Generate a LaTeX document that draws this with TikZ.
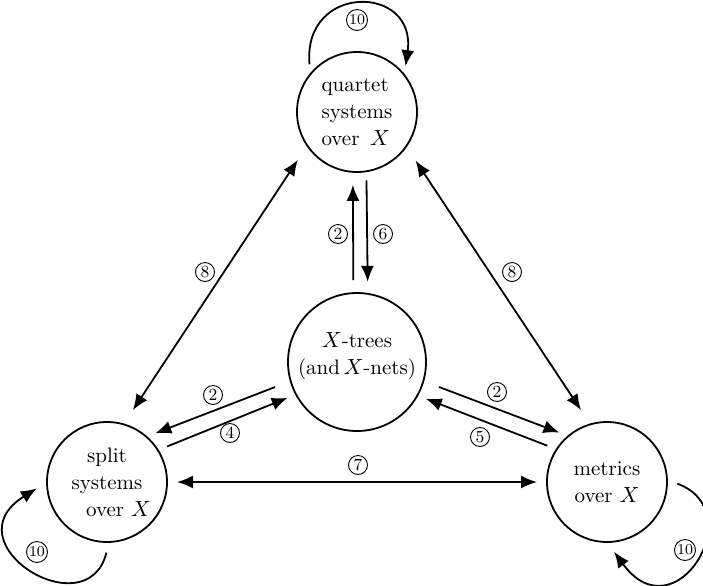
\documentclass[tikz,border=0pt]{standalone}
\usepackage{amsmath}
\usepackage{tikz}
\usetikzlibrary{arrows.meta}
\tikzstyle{set_node}=[circle, draw=black, line width=0.9pt, inner sep=0pt, outer sep=0pt]
\tikzstyle{set_text}=[inner sep=0pt, font=\fontsize{10.5}{13.5}\selectfont]
\tikzstyle{num_label}=[circle, draw=black, line width=0.45pt, inner sep=0pt, minimum size=9.5pt, font=\fontsize{8.5}{9}\selectfont]
\tikzstyle{ten_label}=[num_label, minimum size=10.5pt, font=\fontsize{7.5}{8}\selectfont]
\tikzstyle{map_arrow}=[line width=0.9pt, -{Latex[length=8pt,width=6.5pt]}]
\tikzstyle{both_arrow}=[line width=0.9pt, {Latex[length=8pt,width=6.5pt]}-{Latex[length=8pt,width=6.5pt]}]

\begin{document}
\begin{tikzpicture}[x=0.5pt, y=-0.5pt]
\useasboundingbox (0,0) rectangle (703,585);
% the four sets
\node[set_node, minimum size=60pt] (quartet) at (357,112){};
\node[set_node, minimum size=69pt] (xtrees) at (357,362){};
\node[set_node, minimum size=60pt] (split) at (107,482){};
\node[set_node, minimum size=60pt] (metrics) at (607,482){};
\node[set_text, align=left] (quartet_txt) at (quartet){quartet\\systems\\over\, $X$};
\node[set_text, align=center] (xtrees_txt) at ([yshift=3pt]xtrees){$X$-trees\\(and\,$X$-nets)};
\node[set_text, align=center] (split_txt) at (split){split\\systems\\\hspace*{1.1em}over $X$};
\node[set_text, align=center] (metrics_txt) at (metrics){metrics\\over $X$};
% maps
\draw[both_arrow, shorten <=8.5pt, shorten >=8.5pt](quartet.214.3) -- (split.74);
\draw[both_arrow, shorten <=8.5pt, shorten >=8.5pt](quartet.325.7) -- (metrics.106);
\draw[map_arrow, shorten <=6.5pt, shorten >=6.5pt](xtrees.93.3) -- (quartet.266.2);
\draw[map_arrow, shorten <=4.5pt, shorten >=6pt](quartet.279.6) -- (xtrees.81.7);
\draw[map_arrow, shorten <=8.4pt, shorten >=4.8pt](xtrees.196) -- (split.49.5);
\draw[map_arrow, shorten <=5pt, shorten >=4.5pt](split.32.5) -- (xtrees.208.3);
\draw[map_arrow, shorten <=8.4pt, shorten >=4.8pt](xtrees.344) -- (metrics.130.5);
\draw[map_arrow, shorten <=5pt, shorten >=4.5pt](metrics.147.5) -- (xtrees.331.7);
\draw[both_arrow, shorten <=5pt, shorten >=5pt](split.east) -- (metrics.west);
% loops
\draw[map_arrow, shorten <=5pt, shorten >=4.5pt](quartet.141.6) to[out=95, in=82, distance=46pt] (quartet.38.4);
\draw[map_arrow, shorten <=5.5pt, shorten >=6pt](split.-88) to[out=-104, in=212, out distance=45pt, in distance=58pt] (split.180);
\draw[map_arrow, shorten <=5.5pt, shorten >=6pt](metrics.2) to[out=-20, in=-54, out distance=45pt, in distance=58pt] (metrics.-90);
% labels
\node[ten_label] (n10q) at (357,20){10};
\node[num_label] (n8l) at (205,272){8};
\node[num_label] (n8r) at (512,272){8};
\node[num_label] (n2u) at (338,234){2};
\node[num_label] (n6) at (383,234){6};
\node[num_label] (n2l) at (213,395){2};
\node[num_label] (n4) at (230,433){4};
\node[num_label] (n2r) at (497,392){2};
\node[num_label] (n5) at (480,437){5};
\node[num_label] (n7) at (358,465){7};
\node[ten_label] (n10s) at (37,552){10};
\node[ten_label] (n10m) at (685,550){10};
\end{tikzpicture}
\end{document}
